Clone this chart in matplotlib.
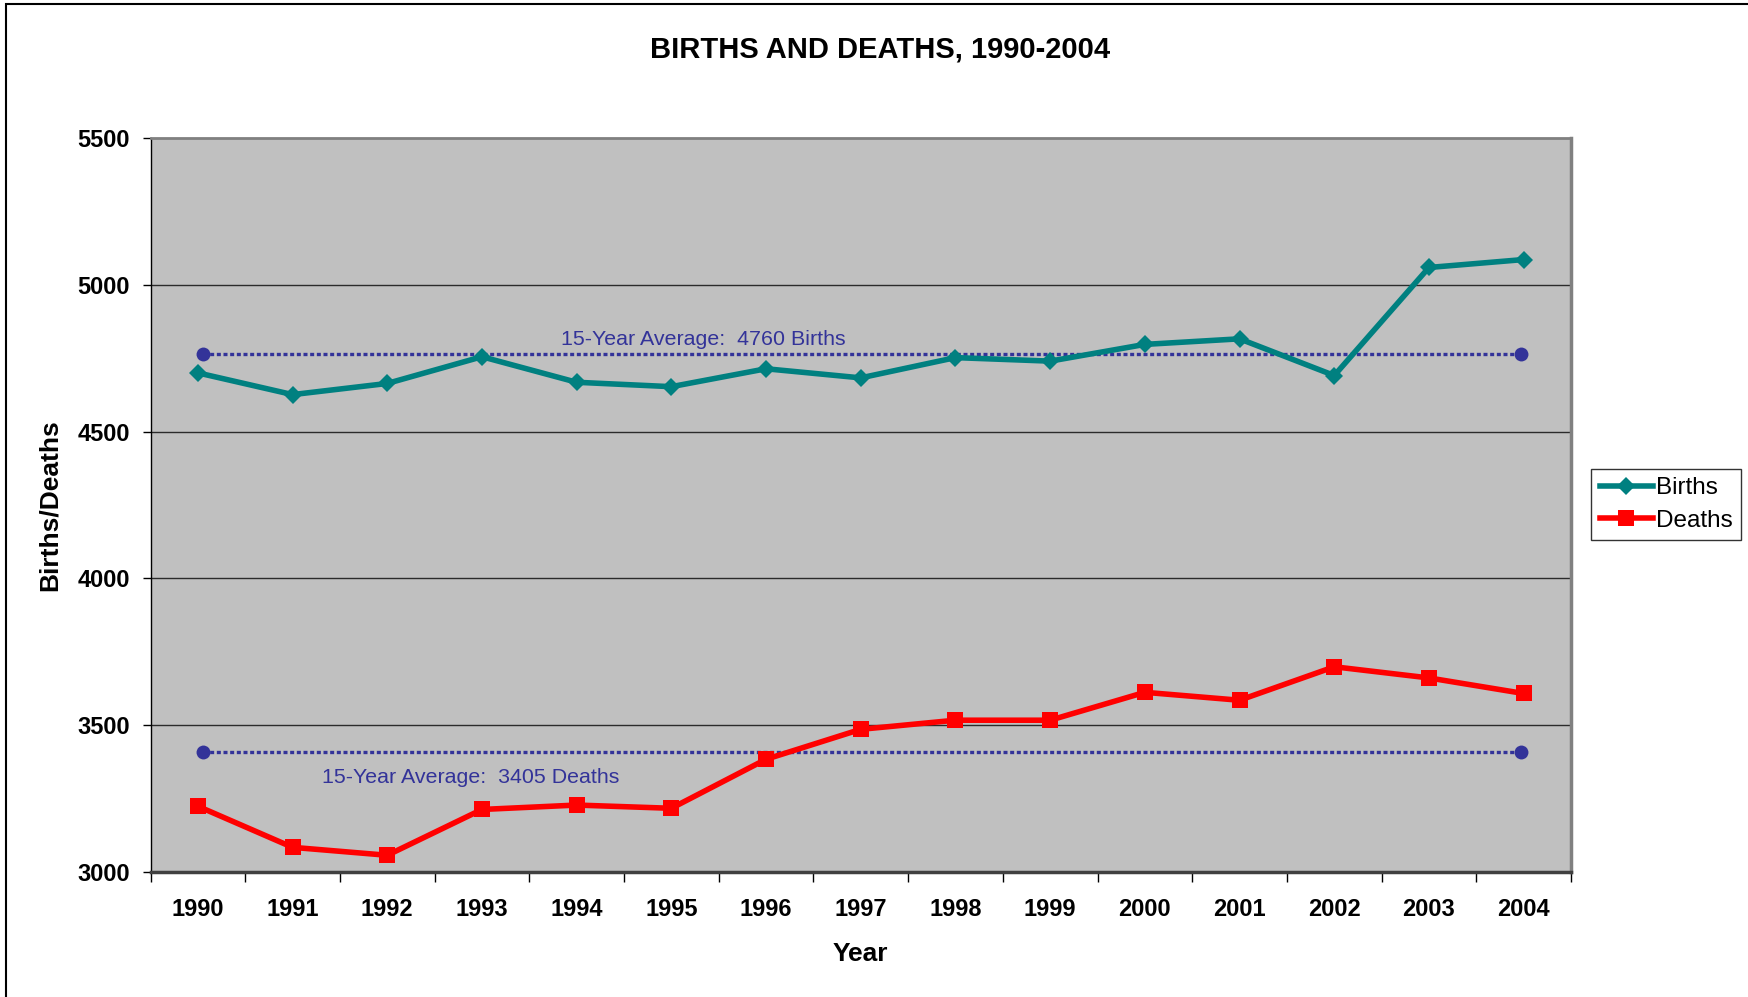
import matplotlib
matplotlib.use("Agg")
import matplotlib.pyplot as plt
from matplotlib.patches import Rectangle

years = ["1990", "1991", "1992", "1993", "1994", "1995", "1996", "1997",
         "1998", "1999", "2000", "2001", "2002", "2003", "2004"]
births = [4700, 4626, 4664, 4755, 4668, 4653, 4714, 4683, 4752, 4740,
          4797, 4816, 4691, 5059, 5086]
deaths = [3224, 3084, 3057, 3213, 3228, 3217, 3384, 3486, 3517, 3517,
          3612, 3585, 3699, 3661, 3608]
avg_births = 4765
avg_deaths = 3410
avg_births_label = "15-Year Average:  4760 Births"
avg_deaths_label = "15-Year Average:  3405 Deaths"
yticks = [3000, 3500, 4000, 4500, 5000, 5500]

plt.rcParams['font.family'] = ['Liberation Sans', 'DejaVu Sans']

W, H = 1748, 997
fig = plt.figure(figsize=(W / 100, H / 100), dpi=100)
fig.patch.set_facecolor('white')

L, R, T, B = 150.5, 1571, 138, 872
ax = fig.add_axes([L / W, 1 - B / H, (R - L) / W, (B - T) / H])
ax.set_facecolor('#C0C0C0')

x = list(range(len(years)))
navy = '#333399'

# average lines
for val in (avg_births, avg_deaths):
    ax.plot([x[0] + 0.05, x[-1] - 0.03], [val, val], color=navy, lw=2.4,
            linestyle=(0, (1.2, 0.8)), dash_capstyle='butt', zorder=3)
    ax.plot([x[0] + 0.05, x[-1] - 0.03], [val, val], linestyle='none',
            marker='o', ms=10, color=navy, mew=0, zorder=4)

lb, = ax.plot(x, births, color='#008080', lw=4, marker='D', ms=9.5,
              mew=0, label='Births', zorder=5)
ld, = ax.plot(x, deaths, color='#FF0000', lw=4, marker='s', ms=11,
              mew=0, label='Deaths', zorder=5)

ax.text(5.34, 4813, avg_births_label, color=navy, fontsize=15.4,
        ha='center', va='center', zorder=6)
ax.text(2.88, 3322, avg_deaths_label, color=navy, fontsize=15.4,
        ha='center', va='center', zorder=6)

ax.set_xlim(-0.5, len(years) - 0.5)
ax.set_ylim(3000, 5500)
ax.set_yticks(yticks)
ax.set_yticklabels([str(v) for v in yticks], fontsize=17, fontweight='bold')
ax.set_xticks(x)
ax.set_xticklabels(years, fontsize=17, fontweight='bold')
ax.set_xticks([i - 0.5 for i in range(len(years) + 1)], minor=True)
ax.tick_params(axis='x', which='major', length=0, pad=19)
ax.tick_params(axis='x', which='minor', length=7, width=1, color='black')
ax.tick_params(axis='y', which='major', length=6, width=1, pad=9)

for v in yticks[1:-1]:
    ax.axhline(v, color='#2b2b2b', lw=1.0, zorder=1)

ax.spines['top'].set_color('#808080')
ax.spines['top'].set_linewidth(2)
ax.spines['right'].set_color('#808080')
ax.spines['right'].set_linewidth(2.5)
ax.spines['left'].set_color('black')
ax.spines['left'].set_linewidth(1)
ax.spines['bottom'].set_color('#404040')
ax.spines['bottom'].set_linewidth(2.5)

fig.text(860.7 / W, 1 - 954 / H, 'Year', fontsize=19, fontweight='bold',
         ha='center', va='center')
fig.text(50 / W, 1 - 505 / H, 'Births/Deaths', fontsize=19,
         fontweight='bold', ha='center', va='center', rotation=90)
fig.text(880 / W, 1 - 50 / H, 'BIRTHS AND DEATHS, 1990-2004', fontsize=21.0,
         fontweight='bold', ha='center', va='center')

leg = fig.legend(handles=[lb, ld], loc='center left',
                 bbox_to_anchor=(1591 / W, 1 - 504.5 / H),
                 bbox_transform=fig.transFigure, fontsize=17.5,
                 frameon=True, fancybox=False, edgecolor='black',
                 handlelength=2.2, handletextpad=0.12, borderpad=0.35,
                 labelspacing=0.45, borderaxespad=0)
leg.get_frame().set_linewidth(1)

# outer chart border
fig.patches.append(Rectangle((6 / W, -0.05), 2, 1.05 - 4 / H,
                             transform=fig.transFigure, fill=False,
                             edgecolor='black', lw=1.5))

fig.savefig('out.png', dpi=100, facecolor='white')
